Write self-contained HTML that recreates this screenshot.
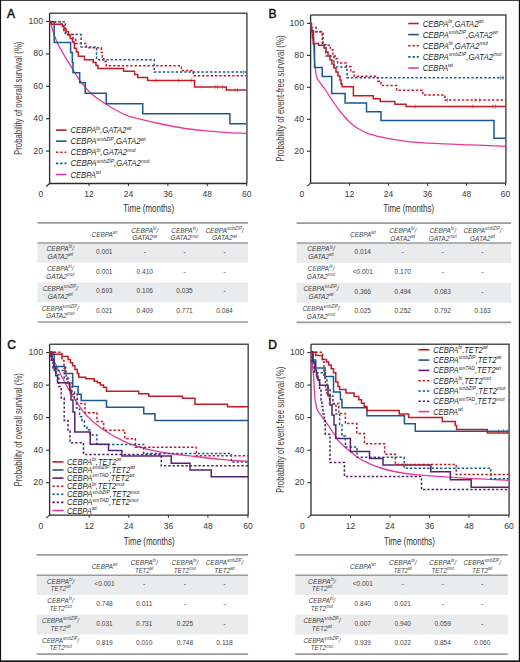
<!DOCTYPE html><html><head><meta charset="utf-8"><style>html,body{margin:0;padding:0;background:#fff;}svg{display:block}</style></head><body>
<svg width="520" height="662" viewBox="0 0 520 662" font-family='"Liberation Sans", sans-serif'>
<rect x="0" y="0" width="520" height="662" fill="#fff"/>
<rect x="0" y="0" width="520" height="0.8" fill="#111"/><rect x="0" y="0" width="1.1" height="662" fill="#111"/><rect x="518.8" y="0" width="1.2" height="662" fill="#111"/><rect x="0" y="660.4" width="520" height="1.6" fill="#111"/>
<text x="7.0" y="17.7" font-size="12.0" text-anchor="start" fill="#111" stroke="#111" stroke-width="0.5">A</text>
<text x="268.6" y="17.7" font-size="12.0" text-anchor="start" fill="#111" stroke="#111" stroke-width="0.5">B</text>
<text x="7.2" y="348.8" font-size="12.0" text-anchor="start" fill="#111" stroke="#111" stroke-width="0.5">C</text>
<text x="268.3" y="348.8" font-size="12.0" text-anchor="start" fill="#111" stroke="#111" stroke-width="0.5">D</text>
<path d="M49.6,13.3 H246.89999999999998 V183.5" fill="none" stroke="#505050" stroke-width="1.5"/>
<path d="M49.6,13.3 V183.5 H246.7" fill="none" stroke="#2b2b2b" stroke-width="1.3"/>
<path d="M49.6,183.5 L46.2,186.5" stroke="#2b2b2b" stroke-width="1.1"/>
<path d="M46.0,21.5 H49.6" stroke="#2b2b2b" stroke-width="1.1"/>
<text x="43.0" y="23.9" font-size="8.7" text-anchor="end" fill="#3a3a3a">100</text>
<path d="M46.0,53.9 H49.6" stroke="#2b2b2b" stroke-width="1.1"/>
<text x="43.0" y="56.3" font-size="8.7" text-anchor="end" fill="#3a3a3a">80</text>
<path d="M46.0,86.3 H49.6" stroke="#2b2b2b" stroke-width="1.1"/>
<text x="43.0" y="88.7" font-size="8.7" text-anchor="end" fill="#3a3a3a">60</text>
<path d="M46.0,118.7 H49.6" stroke="#2b2b2b" stroke-width="1.1"/>
<text x="43.0" y="121.10000000000001" font-size="8.7" text-anchor="end" fill="#3a3a3a">40</text>
<path d="M46.0,151.1 H49.6" stroke="#2b2b2b" stroke-width="1.1"/>
<text x="43.0" y="153.5" font-size="8.7" text-anchor="end" fill="#3a3a3a">20</text>
<text x="40.900000000000006" y="197.0" font-size="8.5" text-anchor="middle" fill="#3a3a3a">0</text>
<path d="M89.0,183.5 V186.1" stroke="#2b2b2b" stroke-width="1.0"/>
<text x="89.0" y="197.0" font-size="8.5" text-anchor="middle" fill="#3a3a3a">12</text>
<path d="M128.4,183.5 V186.1" stroke="#2b2b2b" stroke-width="1.0"/>
<text x="128.4" y="197.0" font-size="8.5" text-anchor="middle" fill="#3a3a3a">24</text>
<path d="M167.9,183.5 V186.1" stroke="#2b2b2b" stroke-width="1.0"/>
<text x="167.9" y="197.0" font-size="8.5" text-anchor="middle" fill="#3a3a3a">36</text>
<path d="M207.3,183.5 V186.1" stroke="#2b2b2b" stroke-width="1.0"/>
<text x="207.3" y="197.0" font-size="8.5" text-anchor="middle" fill="#3a3a3a">48</text>
<path d="M246.7,183.5 V186.1" stroke="#2b2b2b" stroke-width="1.0"/>
<text x="246.7" y="197.0" font-size="8.5" text-anchor="middle" fill="#3a3a3a">60</text>
<text x="0" y="0" font-size="10.3" text-anchor="middle" fill="#3f3f3f" textLength="113.5" lengthAdjust="spacingAndGlyphs" transform="translate(22.2,98.3) rotate(-90)">Probability of overall survival (%)</text>
<text x="148.7" y="212.2" font-size="10.1" text-anchor="middle" textLength="50.9" lengthAdjust="spacingAndGlyphs" fill="#333333">Time (months)</text>
<path d="M49.6,21.5 C49.83,21.92 50.27,21.83 51,24 C51.73,26.17 52.95,31.40 54,34.5 C55.05,37.60 55.68,39.28 57.3,42.6 C58.92,45.92 61.15,49.98 63.7,54.4 C66.25,58.82 69.88,64.73 72.6,69.1 C75.32,73.47 76.85,76.48 80,80.6 C83.15,84.72 87.17,89.87 91.5,93.8 C95.83,97.73 100.23,100.63 106,104.2 C111.77,107.77 120.43,112.70 126.1,115.2 C131.77,117.70 134.15,117.73 140,119.2 C145.85,120.67 154.15,122.53 161.2,124 C168.25,125.47 175.25,126.90 182.3,128 C189.35,129.10 196.45,129.88 203.5,130.6 C210.55,131.32 217.43,131.83 224.6,132.3 C231.77,132.77 242.85,133.22 246.5,133.4" fill="none" stroke="#e8399b" stroke-width="1.3" stroke-linejoin="miter"/>
<path d="M49.6,21.8 H54.2 V42.5 H70.6 V52.5 H72.3 V62.6 H73 V72.7 H79.7 V82.8 H85.2 V93.2 H106.3 V103.8 H142.75 V113.7 H229.9 V123.8 H246.5" fill="none" stroke="#1b5793" stroke-width="1.5" stroke-linejoin="miter"/>
<path d="M49.6,21.8 H65.3 V34.6 H81.1 V46.9 H96.5 V59.7 H154.2 V72.1 H246.5" fill="none" stroke="#1b5793" stroke-width="1.5" stroke-dasharray="2.4,1.9" stroke-linejoin="miter"/>
<path d="M49.6,21.8 H61.4 V25.7 H63.8 V30.5 H65.8 V34.6 H73 V39.6 H75.8 V43.4 H86.4 V47.7 H101.3 V52.5 H102.3 V56.8 H103.75 V61.6 H106.2 V65.8 H181.3 V70.4 H193.3 V75.7 H246.5" fill="none" stroke="#c31b27" stroke-width="1.5" stroke-dasharray="2.4,1.9" stroke-linejoin="miter"/>
<path d="M49.6,21.5 H51.5 V24.2 H62.4 V26.5 H64 V28.5 H66 V31.4 H68.5 V35 H70.1 V38.6 H72.5 V42 H74.4 V48.2 H76.5 V52 H78.3 V56.3 H84.5 V59.7 H93.2 V62.6 H96 V65.5 H98 V68.4 H123.6 V71.3 H134.6 V74.5 H137.7 V77.4 H147.6 V80.5 H194.6 V86.9 H226.3 V89.9 H246.5" fill="none" stroke="#c31b27" stroke-width="1.5" stroke-linejoin="miter"/>
<path d="M156,78.3 V82.7" stroke="#c31b27" stroke-width="0.7" opacity="0.7"/>
<path d="M178.5,78.3 V82.7" stroke="#c31b27" stroke-width="0.7" opacity="0.7"/>
<path d="M191.5,78.3 V82.7" stroke="#c31b27" stroke-width="0.7" opacity="0.7"/>
<path d="M215,84.7 V89.10000000000001" stroke="#c31b27" stroke-width="0.7" opacity="0.7"/>
<path d="M217.5,84.7 V89.10000000000001" stroke="#c31b27" stroke-width="0.7" opacity="0.7"/>
<path d="M222.5,84.7 V89.10000000000001" stroke="#c31b27" stroke-width="0.7" opacity="0.7"/>
<path d="M235,87.7 V92.10000000000001" stroke="#c31b27" stroke-width="0.7" opacity="0.7"/>
<path d="M237.5,87.7 V92.10000000000001" stroke="#c31b27" stroke-width="0.7" opacity="0.7"/>
<path d="M55.9,130.1 H66.5" fill="none" stroke="#c31b27" stroke-width="1.6" stroke-linejoin="miter"/>
<text x="70.5" y="133.1" font-size="9.0" text-anchor="start" font-style="italic" textLength="60.9" lengthAdjust="spacingAndGlyphs" fill="#262626">CEBPA<tspan dy="-3.51" font-size="5.85">bi</tspan><tspan dy="3.51">,GATA2</tspan><tspan dy="-3.51" font-size="5.85">wt</tspan></text>
<path d="M55.9,141.2 H66.5" fill="none" stroke="#1b5793" stroke-width="1.6" stroke-linejoin="miter"/>
<text x="70.5" y="144.2" font-size="9.0" text-anchor="start" font-style="italic" textLength="75.1" lengthAdjust="spacingAndGlyphs" fill="#262626">CEBPA<tspan dy="-3.51" font-size="5.85">smbZIP</tspan><tspan dy="3.51">,GATA2</tspan><tspan dy="-3.51" font-size="5.85">wt</tspan></text>
<path d="M55.9,152.3 H66.5" fill="none" stroke="#c31b27" stroke-width="1.6" stroke-dasharray="2.4,1.9" stroke-linejoin="miter"/>
<text x="70.5" y="155.3" font-size="9.0" text-anchor="start" font-style="italic" textLength="65.2" lengthAdjust="spacingAndGlyphs" fill="#262626">CEBPA<tspan dy="-3.51" font-size="5.85">bi</tspan><tspan dy="3.51">,GATA2</tspan><tspan dy="-3.51" font-size="5.85">mut</tspan></text>
<path d="M55.9,163.4 H66.5" fill="none" stroke="#1b5793" stroke-width="1.6" stroke-dasharray="2.4,1.9" stroke-linejoin="miter"/>
<text x="70.5" y="166.4" font-size="9.0" text-anchor="start" font-style="italic" textLength="78.9" lengthAdjust="spacingAndGlyphs" fill="#262626">CEBPA<tspan dy="-3.51" font-size="5.85">smbZIP</tspan><tspan dy="3.51">,GATA2</tspan><tspan dy="-3.51" font-size="5.85">mut</tspan></text>
<path d="M55.9,174.5 H66.5" fill="none" stroke="#e8399b" stroke-width="1.6" stroke-linejoin="miter"/>
<text x="70.5" y="177.5" font-size="9.0" text-anchor="start" font-style="italic" textLength="30.3" lengthAdjust="spacingAndGlyphs" fill="#262626">CEBPA<tspan dy="-3.51" font-size="5.85">wt</tspan></text>
<path d="M310.6,14.9 H505.9 V183.2" fill="none" stroke="#505050" stroke-width="1.5"/>
<path d="M310.6,14.9 V183.2 H505.7" fill="none" stroke="#2b2b2b" stroke-width="1.3"/>
<path d="M310.6,183.2 L307.20000000000005,186.2" stroke="#2b2b2b" stroke-width="1.1"/>
<path d="M307.0,23.4 H310.6" stroke="#2b2b2b" stroke-width="1.1"/>
<text x="304.0" y="25.799999999999997" font-size="8.7" text-anchor="end" fill="#3a3a3a">100</text>
<path d="M307.0,55.4 H310.6" stroke="#2b2b2b" stroke-width="1.1"/>
<text x="304.0" y="57.8" font-size="8.7" text-anchor="end" fill="#3a3a3a">80</text>
<path d="M307.0,87.3 H310.6" stroke="#2b2b2b" stroke-width="1.1"/>
<text x="304.0" y="89.7" font-size="8.7" text-anchor="end" fill="#3a3a3a">60</text>
<path d="M307.0,119.3 H310.6" stroke="#2b2b2b" stroke-width="1.1"/>
<text x="304.0" y="121.7" font-size="8.7" text-anchor="end" fill="#3a3a3a">40</text>
<path d="M307.0,151.2 H310.6" stroke="#2b2b2b" stroke-width="1.1"/>
<text x="304.0" y="153.6" font-size="8.7" text-anchor="end" fill="#3a3a3a">20</text>
<text x="301.90000000000003" y="196.7" font-size="8.5" text-anchor="middle" fill="#3a3a3a">0</text>
<path d="M349.6,183.2 V185.79999999999998" stroke="#2b2b2b" stroke-width="1.0"/>
<text x="349.6" y="196.7" font-size="8.5" text-anchor="middle" fill="#3a3a3a">12</text>
<path d="M388.6,183.2 V185.79999999999998" stroke="#2b2b2b" stroke-width="1.0"/>
<text x="388.6" y="196.7" font-size="8.5" text-anchor="middle" fill="#3a3a3a">24</text>
<path d="M427.5,183.2 V185.79999999999998" stroke="#2b2b2b" stroke-width="1.0"/>
<text x="427.5" y="196.7" font-size="8.5" text-anchor="middle" fill="#3a3a3a">36</text>
<path d="M466.5,183.2 V185.79999999999998" stroke="#2b2b2b" stroke-width="1.0"/>
<text x="466.5" y="196.7" font-size="8.5" text-anchor="middle" fill="#3a3a3a">48</text>
<path d="M505.5,183.2 V185.79999999999998" stroke="#2b2b2b" stroke-width="1.0"/>
<text x="505.5" y="196.7" font-size="8.5" text-anchor="middle" fill="#3a3a3a">60</text>
<text x="0" y="0" font-size="10.3" text-anchor="middle" fill="#3f3f3f" textLength="126.4" lengthAdjust="spacingAndGlyphs" transform="translate(284.1,98.6) rotate(-90)">Probability of event-free survival (%)</text>
<text x="408.6" y="212.2" font-size="10.1" text-anchor="middle" textLength="50.9" lengthAdjust="spacingAndGlyphs" fill="#333333">Time (months)</text>
<path d="M310.6,23.4 C310.83,25.00 311.50,29.37 312,33 C312.50,36.63 313.20,41.03 313.6,45.2 C314.00,49.37 314.08,53.87 314.4,58 C314.72,62.13 315.10,66.75 315.5,70 C315.90,73.25 315.85,75.13 316.8,77.5 C317.75,79.87 319.77,82.12 321.2,84.2 C322.63,86.28 323.30,86.92 325.4,90 C327.50,93.08 331.58,99.45 333.8,102.7 C336.02,105.95 336.22,106.42 338.7,109.5 C341.18,112.58 345.48,118.03 348.7,121.2 C351.92,124.37 354.48,126.33 358,128.5 C361.52,130.67 364.65,132.50 369.8,134.2 C374.95,135.90 382.20,137.43 388.9,138.7 C395.60,139.97 401.48,140.98 410,141.8 C418.52,142.62 430.00,143.10 440,143.6 C450.00,144.10 459.17,144.33 470,144.8 C480.83,145.27 499.17,146.13 505,146.4" fill="none" stroke="#e8399b" stroke-width="1.3" stroke-linejoin="miter"/>
<path d="M310.6,23.4 H311 V31 H313.5 V44 H314.5 V67.4 H322.2 V76.5 H331.7 V93.6 H345.1 V103.1 H366.5 V111.8 H381 V120.6 H494 V138.2 H505.5" fill="none" stroke="#1b5793" stroke-width="1.5" stroke-linejoin="miter"/>
<path d="M310.6,23.4 H310.9 V31.6 H322.2 V44.7 H325.9 V56.1 H334 V67 H347 V77.7 H505.5" fill="none" stroke="#1b5793" stroke-width="1.5" stroke-dasharray="2.4,1.9" stroke-linejoin="miter"/>
<path d="M310.6,23.4 H311.3 V27.5 H316 V32 H323 V40.7 V45.2 H330.4 V49.7 H333 V54.3 H335 V58.8 H337.6 V62.9 H346.4 V66.8 H350.8 V72 H354.2 V76.3 H377.6 V81.2 H381 V85.5 H396.6 V90.2 H422.8 V94.9 H444.9 V100 H505.5" fill="none" stroke="#c31b27" stroke-width="1.5" stroke-dasharray="2.4,1.9" stroke-linejoin="miter"/>
<path d="M310.6,23.4 H311.5 V30 H312.5 V38 H313.6 V43.4 H318.6 V45.2 H324 V48 H326 V52 H328 V56 H330 V60 H332 V64 H334 V68 H336 V72 H338 V76 H340 V80 H341 V84 H342.1 V86.7 H353.4 V95.7 H373.3 V98.8 H380.2 V101.4 H394.9 V104.2 H406 V106.6 H505.5" fill="none" stroke="#c31b27" stroke-width="1.5" stroke-linejoin="miter"/>
<path d="M408.2,23.5 H418.8" fill="none" stroke="#c31b27" stroke-width="1.6" stroke-linejoin="miter"/>
<text x="422.7" y="26.5" font-size="9.0" text-anchor="start" font-style="italic" textLength="60.9" lengthAdjust="spacingAndGlyphs" fill="#262626">CEBPA<tspan dy="-3.51" font-size="5.85">bi</tspan><tspan dy="3.51">,GATA2</tspan><tspan dy="-3.51" font-size="5.85">wt</tspan></text>
<path d="M408.2,34.6 H418.8" fill="none" stroke="#1b5793" stroke-width="1.6" stroke-linejoin="miter"/>
<text x="422.7" y="37.6" font-size="9.0" text-anchor="start" font-style="italic" textLength="75.1" lengthAdjust="spacingAndGlyphs" fill="#262626">CEBPA<tspan dy="-3.51" font-size="5.85">smbZIP</tspan><tspan dy="3.51">,GATA2</tspan><tspan dy="-3.51" font-size="5.85">wt</tspan></text>
<path d="M408.2,45.7 H418.8" fill="none" stroke="#c31b27" stroke-width="1.6" stroke-dasharray="2.4,1.9" stroke-linejoin="miter"/>
<text x="422.7" y="48.7" font-size="9.0" text-anchor="start" font-style="italic" textLength="65.2" lengthAdjust="spacingAndGlyphs" fill="#262626">CEBPA<tspan dy="-3.51" font-size="5.85">bi</tspan><tspan dy="3.51">,GATA2</tspan><tspan dy="-3.51" font-size="5.85">mut</tspan></text>
<path d="M408.2,56.9 H418.8" fill="none" stroke="#1b5793" stroke-width="1.6" stroke-dasharray="2.4,1.9" stroke-linejoin="miter"/>
<text x="422.7" y="59.9" font-size="9.0" text-anchor="start" font-style="italic" textLength="78.9" lengthAdjust="spacingAndGlyphs" fill="#262626">CEBPA<tspan dy="-3.51" font-size="5.85">smbZIP</tspan><tspan dy="3.51">,GATA2</tspan><tspan dy="-3.51" font-size="5.85">mut</tspan></text>
<path d="M408.2,68.0 H418.8" fill="none" stroke="#e8399b" stroke-width="1.6" stroke-linejoin="miter"/>
<text x="422.7" y="71.0" font-size="9.0" text-anchor="start" font-style="italic" textLength="30.3" lengthAdjust="spacingAndGlyphs" fill="#262626">CEBPA<tspan dy="-3.51" font-size="5.85">wt</tspan></text>
<path d="M415,104.39999999999999 V108.8" stroke="#c31b27" stroke-width="0.7" opacity="0.75"/>
<path d="M473,104.39999999999999 V108.8" stroke="#c31b27" stroke-width="0.7" opacity="0.75"/>
<path d="M492.9,104.39999999999999 V108.8" stroke="#c31b27" stroke-width="0.7" opacity="0.75"/>
<path d="M495.5,104.39999999999999 V108.8" stroke="#c31b27" stroke-width="0.7" opacity="0.75"/>
<path d="M447.5,97.8 V102.2" stroke="#c31b27" stroke-width="0.7" opacity="0.75"/>
<path d="M475,97.8 V102.2" stroke="#c31b27" stroke-width="0.7" opacity="0.75"/>
<path d="M479.6,97.8 V102.2" stroke="#c31b27" stroke-width="0.7" opacity="0.75"/>
<path d="M500.5,75.5 V79.9" stroke="#1b5793" stroke-width="0.7" opacity="0.75"/>
<path d="M503,75.5 V79.9" stroke="#1b5793" stroke-width="0.7" opacity="0.75"/>
<path d="M49.6,344.2 H248.2 V515.2" fill="none" stroke="#505050" stroke-width="1.5"/>
<path d="M49.6,344.2 V515.2 H248.0" fill="none" stroke="#2b2b2b" stroke-width="1.3"/>
<path d="M49.6,515.2 L46.2,518.2" stroke="#2b2b2b" stroke-width="1.1"/>
<path d="M46.0,352.6 H49.6" stroke="#2b2b2b" stroke-width="1.1"/>
<text x="43.0" y="355.0" font-size="8.7" text-anchor="end" fill="#3a3a3a">100</text>
<path d="M46.0,385.1 H49.6" stroke="#2b2b2b" stroke-width="1.1"/>
<text x="43.0" y="387.5" font-size="8.7" text-anchor="end" fill="#3a3a3a">80</text>
<path d="M46.0,417.6 H49.6" stroke="#2b2b2b" stroke-width="1.1"/>
<text x="43.0" y="420.0" font-size="8.7" text-anchor="end" fill="#3a3a3a">60</text>
<path d="M46.0,450.2 H49.6" stroke="#2b2b2b" stroke-width="1.1"/>
<text x="43.0" y="452.59999999999997" font-size="8.7" text-anchor="end" fill="#3a3a3a">40</text>
<path d="M46.0,482.7 H49.6" stroke="#2b2b2b" stroke-width="1.1"/>
<text x="43.0" y="485.09999999999997" font-size="8.7" text-anchor="end" fill="#3a3a3a">20</text>
<text x="40.900000000000006" y="528.7" font-size="8.5" text-anchor="middle" fill="#3a3a3a">0</text>
<path d="M89.2,515.2 V517.8000000000001" stroke="#2b2b2b" stroke-width="1.0"/>
<text x="89.2" y="528.7" font-size="8.5" text-anchor="middle" fill="#3a3a3a">12</text>
<path d="M128.8,515.2 V517.8000000000001" stroke="#2b2b2b" stroke-width="1.0"/>
<text x="128.8" y="528.7" font-size="8.5" text-anchor="middle" fill="#3a3a3a">24</text>
<path d="M168.4,515.2 V517.8000000000001" stroke="#2b2b2b" stroke-width="1.0"/>
<text x="168.4" y="528.7" font-size="8.5" text-anchor="middle" fill="#3a3a3a">36</text>
<path d="M207.9,515.2 V517.8000000000001" stroke="#2b2b2b" stroke-width="1.0"/>
<text x="207.9" y="528.7" font-size="8.5" text-anchor="middle" fill="#3a3a3a">48</text>
<path d="M248.0,515.2 V517.8000000000001" stroke="#2b2b2b" stroke-width="1.0"/>
<text x="248.0" y="528.7" font-size="8.5" text-anchor="middle" fill="#3a3a3a">60</text>
<text x="0" y="0" font-size="10.3" text-anchor="middle" fill="#3f3f3f" textLength="113.5" lengthAdjust="spacingAndGlyphs" transform="translate(22.2,429.8) rotate(-90)">Probability of overall survival (%)</text>
<text x="149.2" y="544.6" font-size="10.1" text-anchor="middle" textLength="50.9" lengthAdjust="spacingAndGlyphs" fill="#333333">Time (months)</text>
<path d="M49.6,352.2 C50.67,354.33 53.93,360.87 56,365 C58.07,369.13 59.83,372.83 62,377 C64.17,381.17 66.70,386.00 69,390 C71.30,394.00 72.80,396.67 75.8,401 C78.80,405.33 82.52,411.30 87,416 C91.48,420.70 96.23,424.83 102.7,429.2 C109.17,433.57 118.75,438.97 125.8,442.2 C132.85,445.43 137.63,446.72 145,448.6 C152.37,450.48 161.67,452.18 170,453.5 C178.33,454.82 186.67,455.53 195,456.5 C203.33,457.47 211.17,458.50 220,459.3 C228.83,460.10 243.33,460.97 248,461.3" fill="none" stroke="#e8399b" stroke-width="1.3" stroke-linejoin="miter"/>
<path d="M49.6,352.2 H51 V354.2 H61.9 V356.5 H68.1 V359.6 H70.4 V362.7 H72.7 V365.8 H75 V369.6 H77.3 V373.5 H78.8 V377.3 H85.8 V378.8 H94.2 V381.2 H97.3 V382.7 H100.4 V385 H103.5 V387.3 H106.5 V391.2 H138.75 V393.75 H148.75 V396.25 H182.5 V398.25 H195 V404.25 H227.5 V406.75 H248" fill="none" stroke="#c31b27" stroke-width="1.5" stroke-linejoin="miter"/>
<path d="M49.6,352.2 H54.2 V366.5 H65 V373.5 H72.7 V386.5 H78.1 V394.2 H81.2 V400.4 H106.5 V407.3 H143.75 V413.75 H155 V420.5 H248" fill="none" stroke="#1b5793" stroke-width="1.5" stroke-linejoin="miter"/>
<path d="M49.6,352.2 H52 V362 H54.2 V370.4 H64.2 V378.8 H67 V383 H72 V392 H74.5 V400 H76.5 V408 H79.6 V416.7 H82 V421 H84.4 V426.3 H87 V430 H90.2 V435 H96.9 V444.5 H143.75 V453.5 H231.25 V462 H248" fill="none" stroke="#1b5793" stroke-width="1.5" stroke-dasharray="2.4,1.9" stroke-linejoin="miter"/>
<path d="M49.6,352.2 H52 V360 H54 V368 H55.8 V375.8 H57.5 V382.7 H69.6 V390 H71 V400 H73 V412 H74.8 V432.1 H90.2 V444.2 H108.5 V450.4 H121.9 V456 H171.25 V463.2 H190 V470 H211.25 V476.75 H248" fill="none" stroke="#54236f" stroke-width="1.5" stroke-linejoin="miter"/>
<path d="M49.6,352.2 H51 V360 H53 V368 H56 V375 H58.8 V386.5 H61.2 V398 H64.2 V409.6 V420.6 H68 V431 H70 V442.7 H83.5 V454.4 H161.25 V465.75 H248" fill="none" stroke="#54236f" stroke-width="1.5" stroke-dasharray="2.4,1.9" stroke-linejoin="miter"/>
<path d="M49.6,352.2 H62 V360.4 H64 V368 H66 V376 H68 V385 H70.4 V394.2 H77.3 V403.5 H85 V412.7 H96.9 V421.5 H103.7 V430.2 H124.8 V438.8 H135.4 V447.2 H196.25 V455.75 H248" fill="none" stroke="#c31b27" stroke-width="1.5" stroke-dasharray="2.4,1.9" stroke-linejoin="miter"/>
<path d="M52.4,461.9 H63.5" fill="none" stroke="#c31b27" stroke-width="1.6" stroke-linejoin="miter"/>
<text x="66.9" y="464.9" font-size="9.3" text-anchor="start" font-style="italic" textLength="54.5" lengthAdjust="spacingAndGlyphs" fill="#262626">CEBPA<tspan dy="-3.63" font-size="6.05">bi</tspan><tspan dy="3.63">,TET2</tspan><tspan dy="-3.63" font-size="6.05">wt</tspan></text>
<path d="M52.4,470.0 H63.5" fill="none" stroke="#1b5793" stroke-width="1.6" stroke-linejoin="miter"/>
<text x="66.9" y="473.0" font-size="9.3" text-anchor="start" font-style="italic" textLength="68.3" lengthAdjust="spacingAndGlyphs" fill="#262626">CEBPA<tspan dy="-3.63" font-size="6.05">smbZIP</tspan><tspan dy="3.63">,TET2</tspan><tspan dy="-3.63" font-size="6.05">wt</tspan></text>
<path d="M52.4,478.09999999999997 H63.5" fill="none" stroke="#54236f" stroke-width="1.6" stroke-linejoin="miter"/>
<text x="66.9" y="481.09999999999997" font-size="9.3" text-anchor="start" font-style="italic" textLength="67.6" lengthAdjust="spacingAndGlyphs" fill="#262626">CEBPA<tspan dy="-3.63" font-size="6.05">smTAD</tspan><tspan dy="3.63">,TET2</tspan><tspan dy="-3.63" font-size="6.05">wt</tspan></text>
<path d="M52.4,486.2 H63.5" fill="none" stroke="#c31b27" stroke-width="1.6" stroke-dasharray="2.4,1.9" stroke-linejoin="miter"/>
<text x="66.9" y="489.2" font-size="9.3" text-anchor="start" font-style="italic" textLength="57.6" lengthAdjust="spacingAndGlyphs" fill="#262626">CEBPA<tspan dy="-3.63" font-size="6.05">bi</tspan><tspan dy="3.63">,TET2</tspan><tspan dy="-3.63" font-size="6.05">mut</tspan></text>
<path d="M52.4,494.29999999999995 H63.5" fill="none" stroke="#1b5793" stroke-width="1.6" stroke-dasharray="2.4,1.9" stroke-linejoin="miter"/>
<text x="66.9" y="497.29999999999995" font-size="9.3" text-anchor="start" font-style="italic" textLength="72.2" lengthAdjust="spacingAndGlyphs" fill="#262626">CEBPA<tspan dy="-3.63" font-size="6.05">smbZIP</tspan><tspan dy="3.63">,TET2</tspan><tspan dy="-3.63" font-size="6.05">mut</tspan></text>
<path d="M52.4,502.4 H63.5" fill="none" stroke="#54236f" stroke-width="1.6" stroke-dasharray="2.4,1.9" stroke-linejoin="miter"/>
<text x="66.9" y="505.4" font-size="9.3" text-anchor="start" font-style="italic" textLength="71.4" lengthAdjust="spacingAndGlyphs" fill="#262626">CEBPA<tspan dy="-3.63" font-size="6.05">smTAD</tspan><tspan dy="3.63">,TET2</tspan><tspan dy="-3.63" font-size="6.05">mut</tspan></text>
<path d="M52.4,510.5 H63.5" fill="none" stroke="#e8399b" stroke-width="1.6" stroke-linejoin="miter"/>
<text x="66.9" y="513.5" font-size="9.3" text-anchor="start" font-style="italic" textLength="29.8" lengthAdjust="spacingAndGlyphs" fill="#262626">CEBPA<tspan dy="-3.63" font-size="6.05">wt</tspan></text>
<path d="M311.0,344.3 H509.09999999999997 V515.2" fill="none" stroke="#505050" stroke-width="1.5"/>
<path d="M311.0,344.3 V515.2 H508.9" fill="none" stroke="#2b2b2b" stroke-width="1.3"/>
<path d="M311.0,515.2 L307.6,518.2" stroke="#2b2b2b" stroke-width="1.1"/>
<path d="M307.4,352.6 H311.0" stroke="#2b2b2b" stroke-width="1.1"/>
<text x="304.4" y="355.0" font-size="8.7" text-anchor="end" fill="#3a3a3a">100</text>
<path d="M307.4,385.1 H311.0" stroke="#2b2b2b" stroke-width="1.1"/>
<text x="304.4" y="387.5" font-size="8.7" text-anchor="end" fill="#3a3a3a">80</text>
<path d="M307.4,417.6 H311.0" stroke="#2b2b2b" stroke-width="1.1"/>
<text x="304.4" y="420.0" font-size="8.7" text-anchor="end" fill="#3a3a3a">60</text>
<path d="M307.4,450.2 H311.0" stroke="#2b2b2b" stroke-width="1.1"/>
<text x="304.4" y="452.59999999999997" font-size="8.7" text-anchor="end" fill="#3a3a3a">40</text>
<path d="M307.4,482.7 H311.0" stroke="#2b2b2b" stroke-width="1.1"/>
<text x="304.4" y="485.09999999999997" font-size="8.7" text-anchor="end" fill="#3a3a3a">20</text>
<text x="302.3" y="528.7" font-size="8.5" text-anchor="middle" fill="#3a3a3a">0</text>
<path d="M350.5,515.2 V517.8000000000001" stroke="#2b2b2b" stroke-width="1.0"/>
<text x="350.5" y="528.7" font-size="8.5" text-anchor="middle" fill="#3a3a3a">12</text>
<path d="M390.0,515.2 V517.8000000000001" stroke="#2b2b2b" stroke-width="1.0"/>
<text x="390.0" y="528.7" font-size="8.5" text-anchor="middle" fill="#3a3a3a">24</text>
<path d="M429.5,515.2 V517.8000000000001" stroke="#2b2b2b" stroke-width="1.0"/>
<text x="429.5" y="528.7" font-size="8.5" text-anchor="middle" fill="#3a3a3a">36</text>
<path d="M469.0,515.2 V517.8000000000001" stroke="#2b2b2b" stroke-width="1.0"/>
<text x="469.0" y="528.7" font-size="8.5" text-anchor="middle" fill="#3a3a3a">48</text>
<path d="M508.9,515.2 V517.8000000000001" stroke="#2b2b2b" stroke-width="1.0"/>
<text x="508.9" y="528.7" font-size="8.5" text-anchor="middle" fill="#3a3a3a">60</text>
<text x="0" y="0" font-size="10.3" text-anchor="middle" fill="#3f3f3f" textLength="126.4" lengthAdjust="spacingAndGlyphs" transform="translate(284.1,429.9) rotate(-90)">Probability of event-free survival (%)</text>
<text x="409.5" y="544.6" font-size="10.1" text-anchor="middle" textLength="50.9" lengthAdjust="spacingAndGlyphs" fill="#333333">Time (months)</text>
<path d="M311,352.2 C311.22,354.17 311.88,360.07 312.3,364 C312.72,367.93 313.17,371.80 313.5,375.8 C313.83,379.80 314.05,384.17 314.3,388 C314.55,391.83 314.67,395.80 315,398.8 C315.33,401.80 315.80,403.93 316.3,406 C316.80,408.07 316.80,409.07 318,411.2 C319.20,413.33 321.83,416.50 323.5,418.8 C325.17,421.10 325.80,421.80 328,425 C330.20,428.20 334.70,435.08 336.7,438 C338.70,440.92 336.53,439.30 340,442.5 C343.47,445.70 352.33,453.55 357.5,457.2 C362.67,460.85 366.28,462.35 371,464.4 C375.72,466.45 380.13,467.98 385.8,469.5 C391.47,471.02 399.63,472.62 405,473.5 C410.37,474.38 411.97,474.27 418,474.8 C424.03,475.33 433.50,476.15 441.2,476.7 C448.90,477.25 452.92,477.48 464.2,478.1 C475.48,478.72 501.45,480.02 508.9,480.4" fill="none" stroke="#e8399b" stroke-width="1.3" stroke-linejoin="miter"/>
<path d="M311,352.2 H313 V360 H315.8 V368 H325 V376.5 H333.5 V391.9 H340.4 V399.6 H342 V407.8 H366.9 V415.7 H404.4 V423.8 H415.3 V431.2 H508.9" fill="none" stroke="#1b5793" stroke-width="1.5" stroke-linejoin="miter"/>
<path d="M311,352.2 H315.8 V355.5 H322.2 V359.6 H326.5 V362 H328.8 V365 H331.2 V368.8 H333.5 V372.7 H335.8 V381.9 H338 V386.5 H339.6 V389.6 H346 V393.1 H354.1 V396.4 H358.8 V399.8 H361.5 V403.2 H364.2 V406.5 H366.9 V410.6 H399.2 V413.9 H408.6 V417.6 H442.3 V421.5 H455.2 V425.5 H456.6 V429.6 H487.3 V433.1 H508.9" fill="none" stroke="#c31b27" stroke-width="1.5" stroke-linejoin="miter"/>
<path d="M311,352.2 H313 V362 H314.5 V372.7 H325 V380 H327 V388 H330 V396 H333 V404 H336 V414 H339.6 V425 H342 V436.1 H345.4 V447 H357 V457.3 H404.2 V468.2 H490.8 V478.8 H508.9" fill="none" stroke="#1b5793" stroke-width="1.5" stroke-dasharray="2.4,1.9" stroke-linejoin="miter"/>
<path d="M311,352.2 H313 V362 H315 V370 H316.5 V376 H318 V380 H319.6 V385.3 H328 V395 H330 V405 H332 V415 H334 V425 H335.8 V438.5 H350.4 V451.5 H369.5 V458.4 H383 V465 H430.8 V471.8 H450.4 V479.7 H471.2 V487.3 H508.9" fill="none" stroke="#54236f" stroke-width="1.5" stroke-linejoin="miter"/>
<path d="M311,352.2 H312 V362 H314 V372 H317 V380 H319.6 V390 H321 V400 H321.9 V406.5 H323 V414 H324.2 V420.8 H325.2 V434.2 H330 V448.7 V462.5 H344.4 V476.5 H421.5 V489.6 H508.9" fill="none" stroke="#54236f" stroke-width="1.5" stroke-dasharray="2.4,1.9" stroke-linejoin="miter"/>
<path d="M311,352.2 H322.7 V362 H324 V376 H325.5 V390 H327 V396 H329.6 V403.5 H338.8 V413.5 H345.4 V423.6 H356.8 V433.5 H364.4 V443.8 H384.6 V454.2 H395.3 V464.4 H456.2 V474.6 H508.9" fill="none" stroke="#c31b27" stroke-width="1.5" stroke-dasharray="2.4,1.9" stroke-linejoin="miter"/>
<path d="M418.4,349.8 H429.3" fill="none" stroke="#c31b27" stroke-width="1.6" stroke-linejoin="miter"/>
<text x="433.2" y="352.8" font-size="9.3" text-anchor="start" font-style="italic" textLength="54.5" lengthAdjust="spacingAndGlyphs" fill="#262626">CEBPA<tspan dy="-3.63" font-size="6.05">bi</tspan><tspan dy="3.63">,TET2</tspan><tspan dy="-3.63" font-size="6.05">wt</tspan></text>
<path d="M418.4,360.1 H429.3" fill="none" stroke="#1b5793" stroke-width="1.6" stroke-linejoin="miter"/>
<text x="433.2" y="363.1" font-size="9.3" text-anchor="start" font-style="italic" textLength="68.3" lengthAdjust="spacingAndGlyphs" fill="#262626">CEBPA<tspan dy="-3.63" font-size="6.05">smbZIP</tspan><tspan dy="3.63">,TET2</tspan><tspan dy="-3.63" font-size="6.05">wt</tspan></text>
<path d="M418.4,370.40000000000003 H429.3" fill="none" stroke="#54236f" stroke-width="1.6" stroke-linejoin="miter"/>
<text x="433.2" y="373.40000000000003" font-size="9.3" text-anchor="start" font-style="italic" textLength="67.6" lengthAdjust="spacingAndGlyphs" fill="#262626">CEBPA<tspan dy="-3.63" font-size="6.05">smTAD</tspan><tspan dy="3.63">,TET2</tspan><tspan dy="-3.63" font-size="6.05">wt</tspan></text>
<path d="M418.4,380.7 H429.3" fill="none" stroke="#c31b27" stroke-width="1.6" stroke-dasharray="2.4,1.9" stroke-linejoin="miter"/>
<text x="433.2" y="383.7" font-size="9.3" text-anchor="start" font-style="italic" textLength="57.6" lengthAdjust="spacingAndGlyphs" fill="#262626">CEBPA<tspan dy="-3.63" font-size="6.05">bi</tspan><tspan dy="3.63">,TET2</tspan><tspan dy="-3.63" font-size="6.05">mut</tspan></text>
<path d="M418.4,391.0 H429.3" fill="none" stroke="#1b5793" stroke-width="1.6" stroke-dasharray="2.4,1.9" stroke-linejoin="miter"/>
<text x="433.2" y="394.0" font-size="9.3" text-anchor="start" font-style="italic" textLength="72.2" lengthAdjust="spacingAndGlyphs" fill="#262626">CEBPA<tspan dy="-3.63" font-size="6.05">smbZIP</tspan><tspan dy="3.63">,TET2</tspan><tspan dy="-3.63" font-size="6.05">mut</tspan></text>
<path d="M418.4,401.3 H429.3" fill="none" stroke="#54236f" stroke-width="1.6" stroke-dasharray="2.4,1.9" stroke-linejoin="miter"/>
<text x="433.2" y="404.3" font-size="9.3" text-anchor="start" font-style="italic" textLength="71.4" lengthAdjust="spacingAndGlyphs" fill="#262626">CEBPA<tspan dy="-3.63" font-size="6.05">smTAD</tspan><tspan dy="3.63">,TET2</tspan><tspan dy="-3.63" font-size="6.05">mut</tspan></text>
<path d="M418.4,411.6 H429.3" fill="none" stroke="#e8399b" stroke-width="1.6" stroke-linejoin="miter"/>
<text x="433.2" y="414.6" font-size="9.3" text-anchor="start" font-style="italic" textLength="29.8" lengthAdjust="spacingAndGlyphs" fill="#262626">CEBPA<tspan dy="-3.63" font-size="6.05">wt</tspan></text>
<path d="M498.4,429.0 V433.4" stroke="#1b5793" stroke-width="0.7" opacity="0.75"/>
<path d="M503.5,429.0 V433.4" stroke="#1b5793" stroke-width="0.7" opacity="0.75"/>
<path d="M507,429.0 V433.4" stroke="#1b5793" stroke-width="0.7" opacity="0.75"/>
<path d="M243.5,69.89999999999999 V74.3" stroke="#1b5793" stroke-width="0.7" opacity="0.75"/>
<rect x="37.5" y="243.0" width="210.5" height="19.75" fill="#eaebed"/>
<rect x="37.5" y="282.5" width="210.5" height="19.75" fill="#eaebed"/>
<path d="M37.5,222.9 H248" stroke="#9b9b9b" stroke-width="1.7"/>
<path d="M37.5,243.0 H248" stroke="#9b9b9b" stroke-width="1.6"/>
<path d="M37.5,322.0 H248" stroke="#9b9b9b" stroke-width="1.7"/>
<text x="104.3" y="236.75" font-size="7.3" text-anchor="middle" font-style="italic" textLength="25.6" lengthAdjust="spacingAndGlyphs" fill="#454545">CEBPA<tspan dy="-2.92" font-size="4.82">wt</tspan></text>
<text x="144.8" y="232.75" font-size="7.3" text-anchor="middle" font-style="italic" textLength="27" lengthAdjust="spacingAndGlyphs" fill="#454545">CEBPA<tspan dy="-2.92" font-size="4.82">bi</tspan><tspan dy="2.92">/</tspan></text>
<text x="144.8" y="240.45" font-size="7.3" text-anchor="middle" font-style="italic" textLength="25" lengthAdjust="spacingAndGlyphs" fill="#454545">GATA2<tspan dy="-2.92" font-size="4.82">wt</tspan></text>
<text x="184.5" y="232.75" font-size="7.3" text-anchor="middle" font-style="italic" textLength="26.5" lengthAdjust="spacingAndGlyphs" fill="#454545">CEBPA<tspan dy="-2.92" font-size="4.82">bi</tspan><tspan dy="2.92">/</tspan></text>
<text x="184.5" y="240.45" font-size="7.3" text-anchor="middle" font-style="italic" textLength="27.9" lengthAdjust="spacingAndGlyphs" fill="#454545">GATA2<tspan dy="-2.92" font-size="4.82">mut</tspan></text>
<text x="224.5" y="232.75" font-size="7.3" text-anchor="middle" font-style="italic" textLength="38.2" lengthAdjust="spacingAndGlyphs" fill="#454545">CEBPA<tspan dy="-2.92" font-size="4.82">smbZIP</tspan><tspan dy="2.92">/</tspan></text>
<text x="224.5" y="240.45" font-size="7.3" text-anchor="middle" font-style="italic" textLength="25.1" lengthAdjust="spacingAndGlyphs" fill="#454545">GATA2<tspan dy="-2.92" font-size="4.82">wt</tspan></text>
<text x="60.2" y="251.375" font-size="7.3" text-anchor="middle" font-style="italic" textLength="27.5" lengthAdjust="spacingAndGlyphs" fill="#454545">CEBPA<tspan dy="-2.92" font-size="4.82">bi</tspan><tspan dy="2.92">/</tspan></text>
<text x="60.2" y="259.075" font-size="7.3" text-anchor="middle" font-style="italic" textLength="25.4" lengthAdjust="spacingAndGlyphs" fill="#454545">GATA2<tspan dy="-2.92" font-size="4.82">wt</tspan></text>
<text x="104.3" y="253.875" font-size="7.9" text-anchor="middle" textLength="16.4" lengthAdjust="spacingAndGlyphs" fill="#454545">0.001</text>
<text x="144.8" y="253.875" font-size="7.3" text-anchor="middle" fill="#454545">-</text>
<text x="184.5" y="253.875" font-size="7.3" text-anchor="middle" fill="#454545">-</text>
<text x="224.5" y="253.875" font-size="7.3" text-anchor="middle" fill="#454545">-</text>
<text x="60.2" y="271.125" font-size="7.3" text-anchor="middle" font-style="italic" textLength="26.5" lengthAdjust="spacingAndGlyphs" fill="#454545">CEBPA<tspan dy="-2.92" font-size="4.82">bi</tspan><tspan dy="2.92">/</tspan></text>
<text x="60.2" y="278.825" font-size="7.3" text-anchor="middle" font-style="italic" textLength="28.4" lengthAdjust="spacingAndGlyphs" fill="#454545">GATA2<tspan dy="-2.92" font-size="4.82">mut</tspan></text>
<text x="104.3" y="273.625" font-size="7.9" text-anchor="middle" textLength="16.4" lengthAdjust="spacingAndGlyphs" fill="#454545">0.001</text>
<text x="144.8" y="273.625" font-size="7.9" text-anchor="middle" textLength="16.4" lengthAdjust="spacingAndGlyphs" fill="#454545">0.410</text>
<text x="184.5" y="273.625" font-size="7.3" text-anchor="middle" fill="#454545">-</text>
<text x="224.5" y="273.625" font-size="7.3" text-anchor="middle" fill="#454545">-</text>
<text x="60.2" y="290.875" font-size="7.3" text-anchor="middle" font-style="italic" textLength="35.1" lengthAdjust="spacingAndGlyphs" fill="#454545">CEBPA<tspan dy="-2.92" font-size="4.82">smZIP</tspan><tspan dy="2.92">/</tspan></text>
<text x="60.2" y="298.575" font-size="7.3" text-anchor="middle" font-style="italic" textLength="25" lengthAdjust="spacingAndGlyphs" fill="#454545">GATA2<tspan dy="-2.92" font-size="4.82">wt</tspan></text>
<text x="104.3" y="293.375" font-size="7.9" text-anchor="middle" textLength="16.4" lengthAdjust="spacingAndGlyphs" fill="#454545">0.693</text>
<text x="144.8" y="293.375" font-size="7.9" text-anchor="middle" textLength="16.4" lengthAdjust="spacingAndGlyphs" fill="#454545">0.106</text>
<text x="184.5" y="293.375" font-size="7.9" text-anchor="middle" textLength="16.4" lengthAdjust="spacingAndGlyphs" fill="#454545">0.035</text>
<text x="224.5" y="293.375" font-size="7.3" text-anchor="middle" fill="#454545">-</text>
<text x="60.2" y="310.625" font-size="7.3" text-anchor="middle" font-style="italic" textLength="37" lengthAdjust="spacingAndGlyphs" fill="#454545">CEBPA<tspan dy="-2.92" font-size="4.82">smbZIP</tspan><tspan dy="2.92">/</tspan></text>
<text x="60.2" y="318.325" font-size="7.3" text-anchor="middle" font-style="italic" textLength="28.4" lengthAdjust="spacingAndGlyphs" fill="#454545">GATA2<tspan dy="-2.92" font-size="4.82">mut</tspan></text>
<text x="104.3" y="313.125" font-size="7.9" text-anchor="middle" textLength="16.4" lengthAdjust="spacingAndGlyphs" fill="#454545">0.021</text>
<text x="144.8" y="313.125" font-size="7.9" text-anchor="middle" textLength="16.4" lengthAdjust="spacingAndGlyphs" fill="#454545">0.409</text>
<text x="184.5" y="313.125" font-size="7.9" text-anchor="middle" textLength="16.4" lengthAdjust="spacingAndGlyphs" fill="#454545">0.771</text>
<text x="224.5" y="313.125" font-size="7.9" text-anchor="middle" textLength="16.4" lengthAdjust="spacingAndGlyphs" fill="#454545">0.084</text>
<rect x="296.6" y="243.0" width="214.59999999999997" height="19.85" fill="#eaebed"/>
<rect x="296.6" y="282.7" width="214.59999999999997" height="19.85" fill="#eaebed"/>
<path d="M296.6,223.2 H511.2" stroke="#9b9b9b" stroke-width="1.7"/>
<path d="M296.6,243.0 H511.2" stroke="#9b9b9b" stroke-width="1.6"/>
<path d="M296.6,322.4 H511.2" stroke="#9b9b9b" stroke-width="1.7"/>
<text x="362.8" y="236.9" font-size="7.3" text-anchor="middle" font-style="italic" textLength="25.6" lengthAdjust="spacingAndGlyphs" fill="#454545">CEBPA<tspan dy="-2.92" font-size="4.82">wt</tspan></text>
<text x="402.8" y="232.9" font-size="7.3" text-anchor="middle" font-style="italic" textLength="27" lengthAdjust="spacingAndGlyphs" fill="#454545">CEBPA<tspan dy="-2.92" font-size="4.82">bi</tspan><tspan dy="2.92">/</tspan></text>
<text x="402.8" y="240.6" font-size="7.3" text-anchor="middle" font-style="italic" textLength="25" lengthAdjust="spacingAndGlyphs" fill="#454545">GATA2<tspan dy="-2.92" font-size="4.82">wt</tspan></text>
<text x="442.7" y="232.9" font-size="7.3" text-anchor="middle" font-style="italic" textLength="26.5" lengthAdjust="spacingAndGlyphs" fill="#454545">CEBPA<tspan dy="-2.92" font-size="4.82">bi</tspan><tspan dy="2.92">/</tspan></text>
<text x="442.7" y="240.6" font-size="7.3" text-anchor="middle" font-style="italic" textLength="27.9" lengthAdjust="spacingAndGlyphs" fill="#454545">GATA2<tspan dy="-2.92" font-size="4.82">mut</tspan></text>
<text x="482.5" y="232.9" font-size="7.3" text-anchor="middle" font-style="italic" textLength="38.2" lengthAdjust="spacingAndGlyphs" fill="#454545">CEBPA<tspan dy="-2.92" font-size="4.82">smbZIP</tspan><tspan dy="2.92">/</tspan></text>
<text x="482.5" y="240.6" font-size="7.3" text-anchor="middle" font-style="italic" textLength="25.1" lengthAdjust="spacingAndGlyphs" fill="#454545">GATA2<tspan dy="-2.92" font-size="4.82">wt</tspan></text>
<text x="321" y="251.425" font-size="7.3" text-anchor="middle" font-style="italic" textLength="27.5" lengthAdjust="spacingAndGlyphs" fill="#454545">CEBPA<tspan dy="-2.92" font-size="4.82">bi</tspan><tspan dy="2.92">/</tspan></text>
<text x="321" y="259.125" font-size="7.3" text-anchor="middle" font-style="italic" textLength="25.4" lengthAdjust="spacingAndGlyphs" fill="#454545">GATA2<tspan dy="-2.92" font-size="4.82">wt</tspan></text>
<text x="362.8" y="253.925" font-size="7.9" text-anchor="middle" textLength="16.4" lengthAdjust="spacingAndGlyphs" fill="#454545">0.014</text>
<text x="402.8" y="253.925" font-size="7.3" text-anchor="middle" fill="#454545">-</text>
<text x="442.7" y="253.925" font-size="7.3" text-anchor="middle" fill="#454545">-</text>
<text x="482.5" y="253.925" font-size="7.3" text-anchor="middle" fill="#454545">-</text>
<text x="321" y="271.27500000000003" font-size="7.3" text-anchor="middle" font-style="italic" textLength="26.5" lengthAdjust="spacingAndGlyphs" fill="#454545">CEBPA<tspan dy="-2.92" font-size="4.82">bi</tspan><tspan dy="2.92">/</tspan></text>
<text x="321" y="278.975" font-size="7.3" text-anchor="middle" font-style="italic" textLength="28.4" lengthAdjust="spacingAndGlyphs" fill="#454545">GATA2<tspan dy="-2.92" font-size="4.82">mut</tspan></text>
<text x="362.8" y="273.77500000000003" font-size="7.9" text-anchor="middle" textLength="20.2" lengthAdjust="spacingAndGlyphs" fill="#454545">&lt;0.001</text>
<text x="402.8" y="273.77500000000003" font-size="7.9" text-anchor="middle" textLength="16.4" lengthAdjust="spacingAndGlyphs" fill="#454545">0.170</text>
<text x="442.7" y="273.77500000000003" font-size="7.3" text-anchor="middle" fill="#454545">-</text>
<text x="482.5" y="273.77500000000003" font-size="7.3" text-anchor="middle" fill="#454545">-</text>
<text x="321" y="291.125" font-size="7.3" text-anchor="middle" font-style="italic" textLength="35.1" lengthAdjust="spacingAndGlyphs" fill="#454545">CEBPA<tspan dy="-2.92" font-size="4.82">smZIP</tspan><tspan dy="2.92">/</tspan></text>
<text x="321" y="298.825" font-size="7.3" text-anchor="middle" font-style="italic" textLength="25" lengthAdjust="spacingAndGlyphs" fill="#454545">GATA2<tspan dy="-2.92" font-size="4.82">wt</tspan></text>
<text x="362.8" y="293.625" font-size="7.9" text-anchor="middle" textLength="16.4" lengthAdjust="spacingAndGlyphs" fill="#454545">0.366</text>
<text x="402.8" y="293.625" font-size="7.9" text-anchor="middle" textLength="16.4" lengthAdjust="spacingAndGlyphs" fill="#454545">0.494</text>
<text x="442.7" y="293.625" font-size="7.9" text-anchor="middle" textLength="16.4" lengthAdjust="spacingAndGlyphs" fill="#454545">0.083</text>
<text x="482.5" y="293.625" font-size="7.3" text-anchor="middle" fill="#454545">-</text>
<text x="321" y="310.975" font-size="7.3" text-anchor="middle" font-style="italic" textLength="37" lengthAdjust="spacingAndGlyphs" fill="#454545">CEBPA<tspan dy="-2.92" font-size="4.82">smbZIP</tspan><tspan dy="2.92">/</tspan></text>
<text x="321" y="318.675" font-size="7.3" text-anchor="middle" font-style="italic" textLength="28.4" lengthAdjust="spacingAndGlyphs" fill="#454545">GATA2<tspan dy="-2.92" font-size="4.82">mut</tspan></text>
<text x="362.8" y="313.475" font-size="7.9" text-anchor="middle" textLength="16.4" lengthAdjust="spacingAndGlyphs" fill="#454545">0.025</text>
<text x="402.8" y="313.475" font-size="7.9" text-anchor="middle" textLength="16.4" lengthAdjust="spacingAndGlyphs" fill="#454545">0.252</text>
<text x="442.7" y="313.475" font-size="7.9" text-anchor="middle" textLength="16.4" lengthAdjust="spacingAndGlyphs" fill="#454545">0.792</text>
<text x="482.5" y="313.475" font-size="7.9" text-anchor="middle" textLength="16.4" lengthAdjust="spacingAndGlyphs" fill="#454545">0.163</text>
<rect x="36.6" y="575.3" width="211.5" height="19.7" fill="#eaebed"/>
<rect x="36.6" y="614.6999999999999" width="211.5" height="19.7" fill="#eaebed"/>
<path d="M36.6,554.9 H248.1" stroke="#9b9b9b" stroke-width="1.7"/>
<path d="M36.6,575.3 H248.1" stroke="#9b9b9b" stroke-width="1.6"/>
<path d="M36.6,654.0999999999999 H248.1" stroke="#9b9b9b" stroke-width="1.7"/>
<text x="104.5" y="568.8999999999999" font-size="7.3" text-anchor="middle" font-style="italic" textLength="25.6" lengthAdjust="spacingAndGlyphs" fill="#454545">CEBPA<tspan dy="-2.92" font-size="4.82">wt</tspan></text>
<text x="144.2" y="564.8999999999999" font-size="7.3" text-anchor="middle" font-style="italic" textLength="27.4" lengthAdjust="spacingAndGlyphs" fill="#454545">CEBPA<tspan dy="-2.92" font-size="4.82">bi</tspan><tspan dy="2.92">/</tspan></text>
<text x="144.2" y="572.5999999999999" font-size="7.3" text-anchor="middle" font-style="italic" textLength="18.2" lengthAdjust="spacingAndGlyphs" fill="#454545">TET2<tspan dy="-2.92" font-size="4.82">wt</tspan></text>
<text x="184.9" y="564.8999999999999" font-size="7.3" text-anchor="middle" font-style="italic" textLength="26.7" lengthAdjust="spacingAndGlyphs" fill="#454545">CEBPA<tspan dy="-2.92" font-size="4.82">bi</tspan><tspan dy="2.92">/</tspan></text>
<text x="184.9" y="572.5999999999999" font-size="7.3" text-anchor="middle" font-style="italic" textLength="22.4" lengthAdjust="spacingAndGlyphs" fill="#454545">TET2<tspan dy="-2.92" font-size="4.82">mut</tspan></text>
<text x="224.5" y="564.8999999999999" font-size="7.3" text-anchor="middle" font-style="italic" textLength="37.5" lengthAdjust="spacingAndGlyphs" fill="#454545">CEBPA<tspan dy="-2.92" font-size="4.82">smbZIP</tspan><tspan dy="2.92">/</tspan></text>
<text x="224.5" y="572.5999999999999" font-size="7.3" text-anchor="middle" font-style="italic" textLength="20.3" lengthAdjust="spacingAndGlyphs" fill="#454545">TET2<tspan dy="-2.92" font-size="4.82">wt</tspan></text>
<text x="60.6" y="583.65" font-size="7.3" text-anchor="middle" font-style="italic" textLength="27.7" lengthAdjust="spacingAndGlyphs" fill="#454545">CEBPA<tspan dy="-2.92" font-size="4.82">bi</tspan><tspan dy="2.92">/</tspan></text>
<text x="60.6" y="591.35" font-size="7.3" text-anchor="middle" font-style="italic" textLength="20.4" lengthAdjust="spacingAndGlyphs" fill="#454545">TET2<tspan dy="-2.92" font-size="4.82">wt</tspan></text>
<text x="104.5" y="586.15" font-size="7.9" text-anchor="middle" textLength="20.2" lengthAdjust="spacingAndGlyphs" fill="#454545">&lt;0.001</text>
<text x="144.2" y="586.15" font-size="7.3" text-anchor="middle" fill="#454545">-</text>
<text x="184.9" y="586.15" font-size="7.3" text-anchor="middle" fill="#454545">-</text>
<text x="224.5" y="586.15" font-size="7.3" text-anchor="middle" fill="#454545">-</text>
<text x="60.6" y="603.35" font-size="7.3" text-anchor="middle" font-style="italic" textLength="26.5" lengthAdjust="spacingAndGlyphs" fill="#454545">CEBPA<tspan dy="-2.92" font-size="4.82">bi</tspan><tspan dy="2.92">/</tspan></text>
<text x="60.6" y="611.0500000000001" font-size="7.3" text-anchor="middle" font-style="italic" textLength="22.4" lengthAdjust="spacingAndGlyphs" fill="#454545">TET2<tspan dy="-2.92" font-size="4.82">mut</tspan></text>
<text x="104.5" y="605.85" font-size="7.9" text-anchor="middle" textLength="16.4" lengthAdjust="spacingAndGlyphs" fill="#454545">0.748</text>
<text x="144.2" y="605.85" font-size="7.9" text-anchor="middle" textLength="16.4" lengthAdjust="spacingAndGlyphs" fill="#454545">0.011</text>
<text x="184.9" y="605.85" font-size="7.3" text-anchor="middle" fill="#454545">-</text>
<text x="224.5" y="605.85" font-size="7.3" text-anchor="middle" fill="#454545">-</text>
<text x="60.6" y="623.05" font-size="7.3" text-anchor="middle" font-style="italic" textLength="37" lengthAdjust="spacingAndGlyphs" fill="#454545">CEBPA<tspan dy="-2.92" font-size="4.82">smbZIP</tspan><tspan dy="2.92">/</tspan></text>
<text x="60.6" y="630.75" font-size="7.3" text-anchor="middle" font-style="italic" textLength="20.3" lengthAdjust="spacingAndGlyphs" fill="#454545">TET2<tspan dy="-2.92" font-size="4.82">wt</tspan></text>
<text x="104.5" y="625.55" font-size="7.9" text-anchor="middle" textLength="16.4" lengthAdjust="spacingAndGlyphs" fill="#454545">0.031</text>
<text x="144.2" y="625.55" font-size="7.9" text-anchor="middle" textLength="16.4" lengthAdjust="spacingAndGlyphs" fill="#454545">0.731</text>
<text x="184.9" y="625.55" font-size="7.9" text-anchor="middle" textLength="16.4" lengthAdjust="spacingAndGlyphs" fill="#454545">0.225</text>
<text x="224.5" y="625.55" font-size="7.3" text-anchor="middle" fill="#454545">-</text>
<text x="60.6" y="642.75" font-size="7.3" text-anchor="middle" font-style="italic" textLength="37" lengthAdjust="spacingAndGlyphs" fill="#454545">CEBPA<tspan dy="-2.92" font-size="4.82">smbZIP</tspan><tspan dy="2.92">/</tspan></text>
<text x="60.6" y="650.45" font-size="7.3" text-anchor="middle" font-style="italic" textLength="22.4" lengthAdjust="spacingAndGlyphs" fill="#454545">TET2<tspan dy="-2.92" font-size="4.82">mut</tspan></text>
<text x="104.5" y="645.25" font-size="7.9" text-anchor="middle" textLength="16.4" lengthAdjust="spacingAndGlyphs" fill="#454545">0.819</text>
<text x="144.2" y="645.25" font-size="7.9" text-anchor="middle" textLength="16.4" lengthAdjust="spacingAndGlyphs" fill="#454545">0.010</text>
<text x="184.9" y="645.25" font-size="7.9" text-anchor="middle" textLength="16.4" lengthAdjust="spacingAndGlyphs" fill="#454545">0.748</text>
<text x="224.5" y="645.25" font-size="7.9" text-anchor="middle" textLength="16.4" lengthAdjust="spacingAndGlyphs" fill="#454545">0.118</text>
<rect x="295.3" y="575.3" width="212.39999999999998" height="19.7" fill="#eaebed"/>
<rect x="295.3" y="614.6999999999999" width="212.39999999999998" height="19.7" fill="#eaebed"/>
<path d="M295.3,554.9 H507.7" stroke="#9b9b9b" stroke-width="1.7"/>
<path d="M295.3,575.3 H507.7" stroke="#9b9b9b" stroke-width="1.6"/>
<path d="M295.3,654.0999999999999 H507.7" stroke="#9b9b9b" stroke-width="1.7"/>
<text x="362.8" y="568.8999999999999" font-size="7.3" text-anchor="middle" font-style="italic" textLength="25.6" lengthAdjust="spacingAndGlyphs" fill="#454545">CEBPA<tspan dy="-2.92" font-size="4.82">wt</tspan></text>
<text x="402.8" y="564.8999999999999" font-size="7.3" text-anchor="middle" font-style="italic" textLength="27.4" lengthAdjust="spacingAndGlyphs" fill="#454545">CEBPA<tspan dy="-2.92" font-size="4.82">bi</tspan><tspan dy="2.92">/</tspan></text>
<text x="402.8" y="572.5999999999999" font-size="7.3" text-anchor="middle" font-style="italic" textLength="18.2" lengthAdjust="spacingAndGlyphs" fill="#454545">TET2<tspan dy="-2.92" font-size="4.82">wt</tspan></text>
<text x="442.7" y="564.8999999999999" font-size="7.3" text-anchor="middle" font-style="italic" textLength="26.7" lengthAdjust="spacingAndGlyphs" fill="#454545">CEBPA<tspan dy="-2.92" font-size="4.82">bi</tspan><tspan dy="2.92">/</tspan></text>
<text x="442.7" y="572.5999999999999" font-size="7.3" text-anchor="middle" font-style="italic" textLength="22.4" lengthAdjust="spacingAndGlyphs" fill="#454545">TET2<tspan dy="-2.92" font-size="4.82">mut</tspan></text>
<text x="482.2" y="564.8999999999999" font-size="7.3" text-anchor="middle" font-style="italic" textLength="37.5" lengthAdjust="spacingAndGlyphs" fill="#454545">CEBPA<tspan dy="-2.92" font-size="4.82">smbZIP</tspan><tspan dy="2.92">/</tspan></text>
<text x="482.2" y="572.5999999999999" font-size="7.3" text-anchor="middle" font-style="italic" textLength="20.3" lengthAdjust="spacingAndGlyphs" fill="#454545">TET2<tspan dy="-2.92" font-size="4.82">wt</tspan></text>
<text x="321.9" y="583.65" font-size="7.3" text-anchor="middle" font-style="italic" textLength="27.7" lengthAdjust="spacingAndGlyphs" fill="#454545">CEBPA<tspan dy="-2.92" font-size="4.82">bi</tspan><tspan dy="2.92">/</tspan></text>
<text x="321.9" y="591.35" font-size="7.3" text-anchor="middle" font-style="italic" textLength="20.4" lengthAdjust="spacingAndGlyphs" fill="#454545">TET2<tspan dy="-2.92" font-size="4.82">wt</tspan></text>
<text x="362.8" y="586.15" font-size="7.9" text-anchor="middle" textLength="20.2" lengthAdjust="spacingAndGlyphs" fill="#454545">&lt;0.001</text>
<text x="402.8" y="586.15" font-size="7.3" text-anchor="middle" fill="#454545">-</text>
<text x="442.7" y="586.15" font-size="7.3" text-anchor="middle" fill="#454545">-</text>
<text x="482.2" y="586.15" font-size="7.3" text-anchor="middle" fill="#454545">-</text>
<text x="321.9" y="603.35" font-size="7.3" text-anchor="middle" font-style="italic" textLength="26.5" lengthAdjust="spacingAndGlyphs" fill="#454545">CEBPA<tspan dy="-2.92" font-size="4.82">bi</tspan><tspan dy="2.92">/</tspan></text>
<text x="321.9" y="611.0500000000001" font-size="7.3" text-anchor="middle" font-style="italic" textLength="22.4" lengthAdjust="spacingAndGlyphs" fill="#454545">TET2<tspan dy="-2.92" font-size="4.82">mut</tspan></text>
<text x="362.8" y="605.85" font-size="7.9" text-anchor="middle" textLength="16.4" lengthAdjust="spacingAndGlyphs" fill="#454545">0.840</text>
<text x="402.8" y="605.85" font-size="7.9" text-anchor="middle" textLength="16.4" lengthAdjust="spacingAndGlyphs" fill="#454545">0.021</text>
<text x="442.7" y="605.85" font-size="7.3" text-anchor="middle" fill="#454545">-</text>
<text x="482.2" y="605.85" font-size="7.3" text-anchor="middle" fill="#454545">-</text>
<text x="321.9" y="623.05" font-size="7.3" text-anchor="middle" font-style="italic" textLength="37" lengthAdjust="spacingAndGlyphs" fill="#454545">CEBPA<tspan dy="-2.92" font-size="4.82">smbZIP</tspan><tspan dy="2.92">/</tspan></text>
<text x="321.9" y="630.75" font-size="7.3" text-anchor="middle" font-style="italic" textLength="20.3" lengthAdjust="spacingAndGlyphs" fill="#454545">TET2<tspan dy="-2.92" font-size="4.82">wt</tspan></text>
<text x="362.8" y="625.55" font-size="7.9" text-anchor="middle" textLength="16.4" lengthAdjust="spacingAndGlyphs" fill="#454545">0.007</text>
<text x="402.8" y="625.55" font-size="7.9" text-anchor="middle" textLength="16.4" lengthAdjust="spacingAndGlyphs" fill="#454545">0.940</text>
<text x="442.7" y="625.55" font-size="7.9" text-anchor="middle" textLength="16.4" lengthAdjust="spacingAndGlyphs" fill="#454545">0.059</text>
<text x="482.2" y="625.55" font-size="7.3" text-anchor="middle" fill="#454545">-</text>
<text x="321.9" y="642.75" font-size="7.3" text-anchor="middle" font-style="italic" textLength="37" lengthAdjust="spacingAndGlyphs" fill="#454545">CEBPA<tspan dy="-2.92" font-size="4.82">smbZIP</tspan><tspan dy="2.92">/</tspan></text>
<text x="321.9" y="650.45" font-size="7.3" text-anchor="middle" font-style="italic" textLength="22.4" lengthAdjust="spacingAndGlyphs" fill="#454545">TET2<tspan dy="-2.92" font-size="4.82">mut</tspan></text>
<text x="362.8" y="645.25" font-size="7.9" text-anchor="middle" textLength="16.4" lengthAdjust="spacingAndGlyphs" fill="#454545">0.939</text>
<text x="402.8" y="645.25" font-size="7.9" text-anchor="middle" textLength="16.4" lengthAdjust="spacingAndGlyphs" fill="#454545">0.022</text>
<text x="442.7" y="645.25" font-size="7.9" text-anchor="middle" textLength="16.4" lengthAdjust="spacingAndGlyphs" fill="#454545">0.854</text>
<text x="482.2" y="645.25" font-size="7.9" text-anchor="middle" textLength="16.4" lengthAdjust="spacingAndGlyphs" fill="#454545">0.060</text>
</svg></body></html>
